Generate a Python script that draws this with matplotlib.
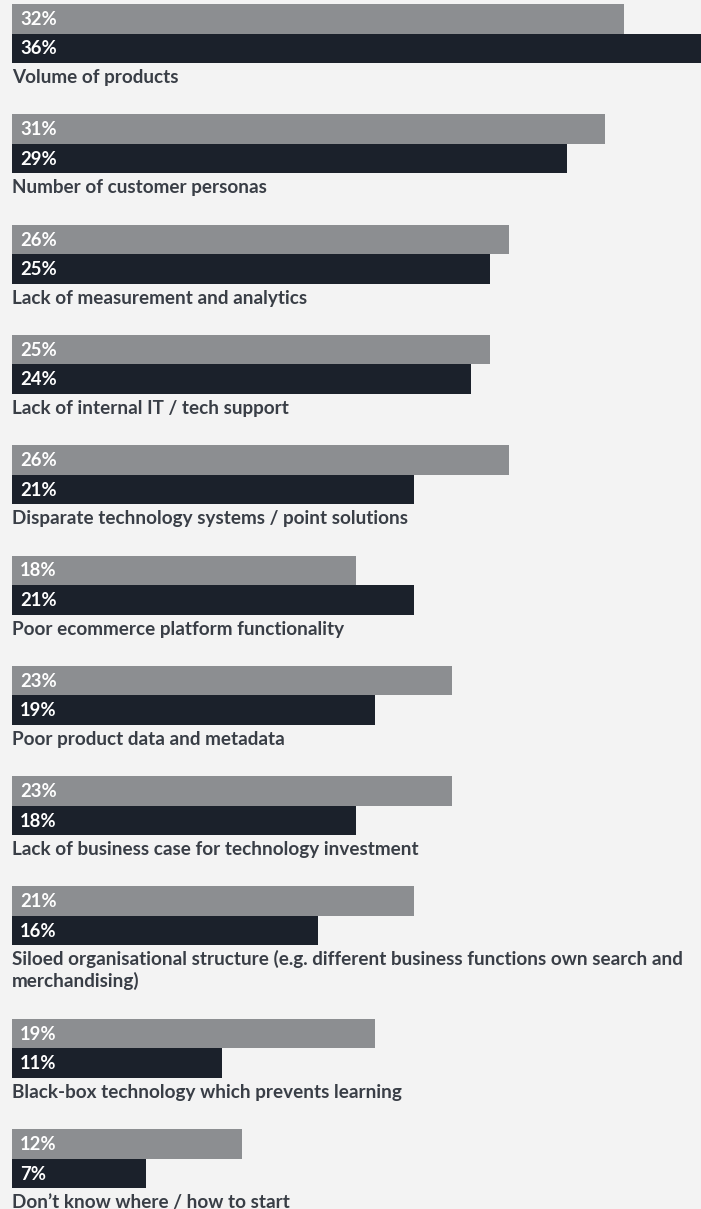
import matplotlib
matplotlib.use("Agg")
import matplotlib.pyplot as plt

CATEGORIES = [
    "Volume of products",
    "Number of customer personas",
    "Lack of measurement and analytics",
    "Lack of internal IT / tech support",
    "Disparate technology systems / point solutions",
    "Poor ecommerce platform functionality",
    "Poor product data and metadata",
    "Lack of business case for technology investment",
    "Siloed organisational structure (e.g. different business functions own search and\nmerchandising)",
    "Black-box technology which prevents learning",
    "Don\u2019t know where / how to start",
]
GREY_VALUES = [32, 31, 26, 25, 26, 18, 23, 23, 21, 19, 12]
DARK_VALUES = [36, 29, 25, 24, 21, 21, 19, 18, 16, 11, 7]

BG = "#f3f3f3"
GREY = "#8c8e91"
DARK = "#1b212b"
LABEL = "#393e46"

W, H = 701, 1209
fig = plt.figure(figsize=(W / 100, H / 100), dpi=100, facecolor=BG)
plt.rcParams['font.family'] = ['Lato', 'DejaVu Sans']

# percent horizontally, pixel rows vertically
left = 12
px_per_pct = 19.125
ax = fig.add_axes([left / W, 0, (W - left) / W, 1])
ax.set_facecolor(BG)
ax.set_xlim(0, (W - left) / px_per_pct)
ax.set_ylim(H, 0)
ax.axis("off")

bar_h = 29.5
period = 110.3
line_gap = 22
tops = []
extra = 0
for i, cat in enumerate(CATEGORIES):
    tops.append(4 + i * period + extra)
    extra += line_gap * cat.count("\n")

dark_y = [t + bar_h for t in tops]
ax.barh(tops, GREY_VALUES, height=bar_h, align="edge", color=GREY, linewidth=0)
ax.barh(dark_y, DARK_VALUES, height=bar_h, align="edge", color=DARK, linewidth=0)

pad = 8 / px_per_pct
for t, g, d, cat in zip(tops, GREY_VALUES, DARK_VALUES, CATEGORIES):
    ax.text(pad, t + 21, f"{g}%", color="white", fontsize=13.3, fontweight="bold", va="baseline")
    ax.text(pad, t + bar_h + 21, f"{d}%", color="white", fontsize=13.3, fontweight="bold", va="baseline")
    for k, line in enumerate(cat.split("\n")):
        ax.text(0, t + 79 + k * line_gap, line, color=LABEL, fontsize=13.6,
                fontweight="bold", va="baseline")

fig.savefig("out.png", dpi=100, facecolor=BG)
